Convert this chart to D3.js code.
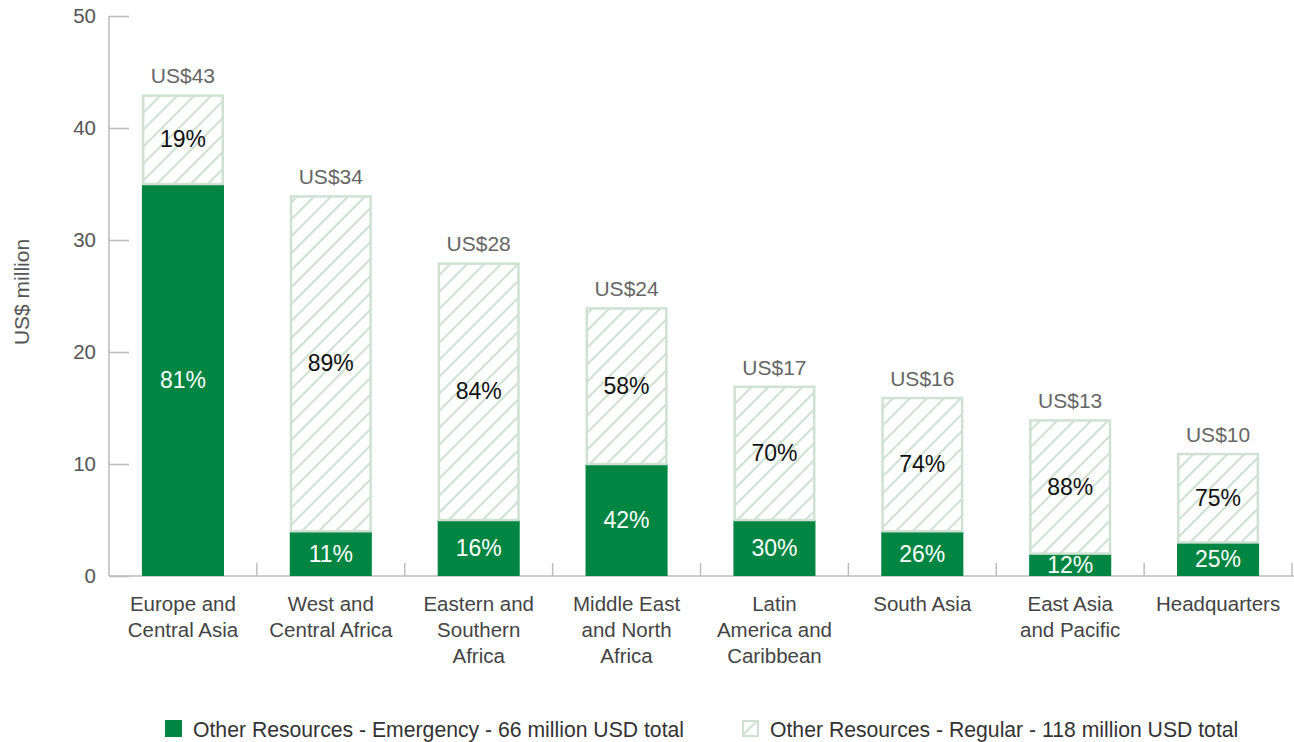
<!DOCTYPE html>
<html><head><meta charset="utf-8">
<script src="https://cdn.jsdelivr.net/npm/d3@7"></script>
<style>body{margin:0;background:#fff}svg{display:block;font-family:"Liberation Sans",Arial,sans-serif}</style>
</head><body><svg id="c" width="1294" height="742"></svg>
<script>
const categories = [["Europe and","Central Asia"],["West and","Central Africa"],["Eastern and","Southern","Africa"],["Middle East","and North","Africa"],["Latin","America and","Caribbean"],["South Asia"],["East Asia","and Pacific"],["Headquarters"]];
const emergency = [35, 4, 5, 10, 5, 4, 2, 3];
const regular = [8, 30, 23, 14, 12, 12, 12, 8];
const totalLabels = ["US$43","US$34","US$28","US$24","US$17","US$16","US$13","US$10"];
const emergencyPct = ["81%","11%","16%","42%","30%","26%","12%","25%"];
const regularPct = ["19%","89%","84%","58%","70%","74%","88%","75%"];
const yTicks = [0,10,20,30,40,50];
const legendLabels = ["Other Resources - Emergency - 66 million USD total","Other Resources - Regular - 118 million USD total"];

const GREEN = "#008543", HATCH = "#cfe1d3";
const svg = d3.select("#c");
const defs = svg.append("defs");
const pat = defs.append("pattern").attr("id","hatch").attr("patternUnits","userSpaceOnUse")
  .attr("width",12).attr("height",12).attr("patternTransform","rotate(45)");
pat.append("rect").attr("width",12).attr("height",12).attr("fill","#fff");
pat.append("line").attr("x1",1).attr("y1",0).attr("x2",1).attr("y2",12).attr("stroke",HATCH).attr("stroke-width",2.2);

const idx = d3.range(categories.length);
const x = d3.scaleBand().domain(idx).range([109,1292]).paddingInner(0).paddingOuter(0);
const y = d3.scaleLinear().domain([0,50]).range([576,16]);
const bw = x.bandwidth()*0.555;
const cx = i => x(i) + x.bandwidth()/2;

// y axis
const ya = svg.append("g").attr("transform","translate(109,0)")
  .call(d3.axisRight(y).tickValues(yTicks).tickSize(20).tickFormat(""));
ya.select(".domain").attr("stroke","#bdbdbd").attr("stroke-width",1.5).attr("d","M0,16V576");
ya.selectAll(".tick line").attr("stroke","#bdbdbd").attr("stroke-width",1.5);
svg.append("g").selectAll("text").data(yTicks).join("text")
  .attr("x",96).attr("y",d=>y(d)).attr("dy","0.35em").attr("text-anchor","end")
  .attr("font-size",20.5).attr("fill","#555").text(d=>d);
svg.append("text").attr("transform","translate(29,292) rotate(-90)").attr("text-anchor","middle")
  .attr("font-size",21).attr("fill","#555").text("US$ million");

// x axis
svg.append("line").attr("x1",109).attr("x2",1294).attr("y1",576).attr("y2",576).attr("stroke","#bdbdbd").attr("stroke-width",1.5);
svg.append("g").selectAll("line").data(idx.slice(1).concat([categories.length])).join("line")
  .attr("x1",d=>x.step()*d + 109).attr("x2",d=>x.step()*d + 109)
  .attr("y1",563).attr("y2",576).attr("stroke","#bdbdbd").attr("stroke-width",1.5);

// bars
const g = svg.append("g");
g.selectAll("rect.em").data(idx).join("rect").attr("class","em")
  .attr("x",i=>cx(i)-bw/2).attr("width",bw)
  .attr("y",i=>y(emergency[i])).attr("height",i=>y(0)-y(emergency[i])).attr("fill",GREEN);
g.selectAll("rect.rg").data(idx).join("rect").attr("class","rg")
  .attr("x",i=>cx(i)-bw/2+1.25).attr("width",bw-2.5)
  .attr("y",i=>y(emergency[i]+regular[i])+1.25).attr("height",i=>y(emergency[i])-y(emergency[i]+regular[i])-1.25)
  .attr("fill","url(#hatch)").attr("stroke",HATCH).attr("stroke-width",2.5);

// labels
g.selectAll("text.tot").data(idx).join("text").attr("class","tot")
  .attr("x",cx).attr("y",i=>y(emergency[i]+regular[i])-11).attr("text-anchor","middle")
  .attr("font-size",21).attr("fill","#666").text(i=>totalLabels[i]);
g.selectAll("text.ep").data(idx).join("text").attr("class","ep")
  .attr("x",cx).attr("y",i=>(y(0)+y(emergency[i]))/2).attr("dy","0.36em").attr("text-anchor","middle")
  .attr("font-size",23).attr("fill","#fff").text(i=>emergencyPct[i]);
g.selectAll("text.rp").data(idx).join("text").attr("class","rp")
  .attr("x",cx).attr("y",i=>(y(emergency[i])+y(emergency[i]+regular[i]))/2).attr("dy","0.36em").attr("text-anchor","middle")
  .attr("font-size",23).attr("fill","#111").text(i=>regularPct[i]);

// category labels
const cl = svg.append("g").selectAll("text").data(idx).join("text")
  .attr("x",cx).attr("y",611).attr("text-anchor","middle").attr("font-size",20.5).attr("fill","#444");
cl.selectAll("tspan").data(i=>categories[i].map(t=>({t,i}))).join("tspan")
  .attr("x",d=>cx(d.i)).attr("dy",(d,k)=>k===0?0:26).text(d=>d.t);

// legend
const lg = svg.append("g");
lg.append("rect").attr("x",165).attr("y",720).attr("width",17).attr("height",17).attr("fill",GREEN);
lg.append("text").attr("x",193).attr("y",736.5).attr("font-size",21.2).attr("fill","#333").text(legendLabels[0]);
lg.append("rect").attr("x",743).attr("y",721).attr("width",15).attr("height",15).attr("fill","url(#hatch)").attr("stroke",HATCH).attr("stroke-width",2);
lg.append("text").attr("x",770).attr("y",736.5).attr("font-size",21.2).attr("fill","#333").text(legendLabels[1]);
</script></body></html>
